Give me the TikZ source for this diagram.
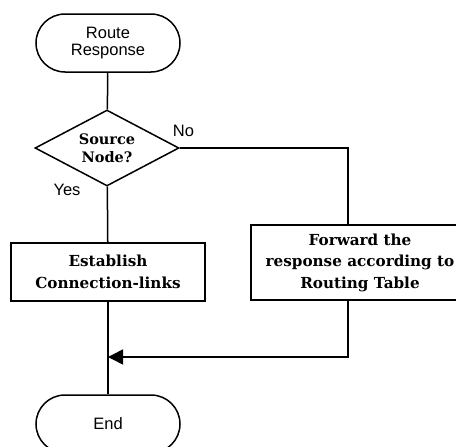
\documentclass[tikz,border=0pt]{standalone}
\usepackage{fontspec}
\setmainfont{Liberation Sans}
\newfontfamily\boxfont{DejaVu Serif}
\usetikzlibrary{shapes.geometric,arrows.meta}
\begin{document}
\begin{tikzpicture}[x=1pt,y=-1pt,
  term/.style={draw, line width=1.5pt, rectangle, rounded corners=29pt, minimum width=144pt, minimum height=58pt, inner sep=0pt, align=center, font=\fontsize{16.5}{16.7}\selectfont},
  decision/.style={draw, line width=1.5pt, diamond, aspect=1.9, minimum width=144pt, minimum height=76pt, inner sep=0pt, align=center, font=\boxfont\bfseries\fontsize{14.5}{18}\selectfont},
  proc/.style={draw, line width=1.5pt, rectangle, inner sep=0pt, align=center, font=\boxfont\bfseries\fontsize{15.2}{21.5}\selectfont},
  lbl/.style={font=\fontsize{16.5}{16}\selectfont, inner sep=0pt},
  conn/.style={line width=1.5pt}
]
\useasboundingbox (0,0) rectangle (456,447);
\clip (0,0) rectangle (456,447);
\node[term] (start) at (108,43) {Route\\Response};
\node[decision] (dec) at (107,148) {Source\\Node?};
\node[proc, minimum width=194pt, minimum height=58pt] (est) at (108,272) {Establish\\Connection-links};
\node[proc, minimum width=218pt, minimum height=75pt] (fwd) at (360,262.5) {Forward the\\response according to\\Routing Table};
\node[term] (end) at (108,424) {End};
\node[lbl] (yes) at (67,189.5) {Yes};
\node[lbl] (no) at (183.5,131) {No};
\coordinate (fwdtop) at (348,225);
\coordinate (fwdbot) at (348,300);
\coordinate (corner1) at (348,148);
\coordinate (corner2) at (348,357);
\coordinate (merge) at (108,357);
\draw[conn] (start) -- (dec);
\draw[conn] (dec) -- (est);
\draw[conn] (dec.east) -- (corner1) -- (fwdtop);
\draw[conn] (est) -- (end);
\draw[conn, -{Triangle[length=15pt,width=15pt]}] (fwdbot) -- (corner2) -- (merge);
\end{tikzpicture}
\end{document}
